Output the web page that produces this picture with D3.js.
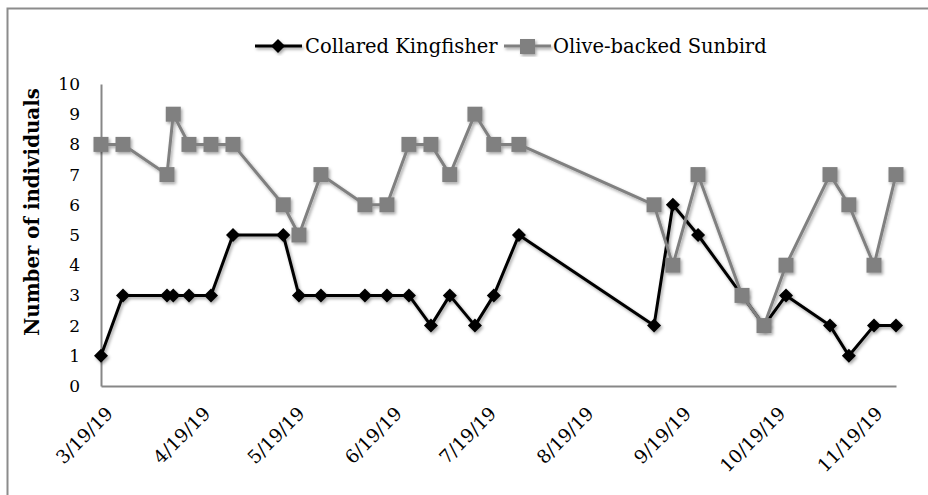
<!DOCTYPE html>
<html>
<head>
<meta charset="utf-8">
<script src="https://cdn.jsdelivr.net/npm/d3@7"></script>
<style>
  html, body { margin: 0; padding: 0; background: #fff; }
  svg { display: block; }
  text { font-family: "DejaVu Serif", "Liberation Serif", serif; fill: #000; }
</style>
</head>
<body>
<svg id="chart" width="928" height="495"></svg>
<script>
// ---- data ----
const dates = ["3/19/19","3/26/19","4/9/19","4/11/19","4/16/19","4/23/19","4/30/19",
  "5/16/19","5/21/19","5/28/19","6/11/19","6/18/19","6/25/19","7/2/19","7/8/19",
  "7/16/19","7/22/19","7/30/19","9/11/19","9/17/19","9/25/19","10/9/19","10/16/19",
  "10/23/19","11/6/19","11/12/19","11/20/19","11/27/19"];
const kingfisher = [1,3,3,3,3,3,5,5,3,3,3,3,3,2,3,2,3,5,2,6,5,3,2,3,2,1,2,2];
const sunbird    = [8,8,7,9,8,8,8,6,5,7,6,6,8,8,7,9,8,8,6,4,7,3,2,4,7,6,4,7];
const xTickLabels = ["3/19/19","4/19/19","5/19/19","6/19/19","7/19/19","8/19/19","9/19/19","10/19/19","11/19/19"];
const yTicks = [0,1,2,3,4,5,6,7,8,9,10];
const seriesNames = ["Collared Kingfisher","Olive-backed Sunbird"];
const yTitle = "Number of individuals";

// ---- setup ----
const parse = d3.timeParse("%m/%d/%y");
const fmt = d3.timeFormat("%-m/%-d/%y");
const svg = d3.select("#chart");

const defs = svg.append("defs");
const f = defs.append("filter").attr("id","shadow").attr("x","-20%").attr("y","-20%").attr("width","140%").attr("height","140%");
f.append("feDropShadow").attr("dx",1.5).attr("dy",2).attr("stdDeviation",1.6)
  .attr("flood-color","#000").attr("flood-opacity",0.35);

// outer border
svg.append("rect").attr("x",7.5).attr("y",8.5).attr("width",940).attr("height",500)
  .attr("fill","none").attr("stroke","#8c8c8c").attr("stroke-width",2);

const xDates = dates.map(parse);
const x = d3.scaleTime().domain([xDates[0], xDates[xDates.length-1]]).range([101, 896]);
const y = d3.scaleLinear().domain([0,10]).range([386, 84]);

// axes
const xAxis = d3.axisBottom(x).tickValues(xTickLabels.map(parse)).tickFormat(fmt).tickSize(0);
const gx = svg.append("g").attr("transform","translate(0,386)").call(xAxis);
gx.select(".domain").attr("stroke","#878787").attr("stroke-width",2);
gx.selectAll(".tick text")
  .attr("font-family","DejaVu Serif")
  .attr("font-size",18.5)
  .attr("text-anchor","end")
  .attr("transform","translate(8,24) rotate(-45)")
  .attr("x",0).attr("y",0).attr("dy","0.35em");

const yAxis = d3.axisLeft(y).tickValues(yTicks).tickSize(0).tickPadding(21);
const gy = svg.append("g").attr("transform","translate(101,0)").call(yAxis);
gy.select(".domain").attr("stroke","#878787").attr("stroke-width",2);
gy.selectAll(".tick text").attr("font-family","DejaVu Serif").attr("font-size",17);

// y title
svg.append("text")
  .attr("transform","translate(39,212) rotate(-90)")
  .attr("text-anchor","middle")
  .attr("font-weight","bold")
  .attr("font-size",19.8)
  .text(yTitle);

// series
const line = d3.line().x(d => x(d.date)).y(d => y(d.v));
const kData = xDates.map((d,i) => ({date:d, v:kingfisher[i]}));
const sData = xDates.map((d,i) => ({date:d, v:sunbird[i]}));

const diamond = "M0,-7L7,0L0,7L-7,0Z";

const gk = svg.append("g").attr("filter","url(#shadow)");
gk.append("path").datum(kData).attr("d",line).attr("fill","none").attr("stroke","#000").attr("stroke-width",3).attr("stroke-linejoin","round");
gk.selectAll("path.m").data(kData).enter().append("path").attr("class","m")
  .attr("d",diamond).attr("transform",d => `translate(${x(d.date)},${y(d.v)})`).attr("fill","#000");

const gs = svg.append("g").attr("filter","url(#shadow)");
gs.append("path").datum(sData).attr("d",line).attr("fill","none").attr("stroke","#808080").attr("stroke-width",3).attr("stroke-linejoin","round");
gs.selectAll("rect").data(sData).enter().append("rect")
  .attr("x",d => x(d.date)-7.5).attr("y",d => y(d.v)-7.5).attr("width",15).attr("height",15).attr("fill","#808080");

// legend
const lg = svg.append("g");
const l1 = lg.append("g").attr("filter","url(#shadow)");
l1.append("line").attr("x1",255).attr("x2",302).attr("y1",46).attr("y2",46).attr("stroke","#000").attr("stroke-width",3);
l1.append("path").attr("d",diamond).attr("transform","translate(278,46)").attr("fill","#000");
lg.append("text").attr("x",305).attr("y",53).attr("font-size",19.5).text(seriesNames[0]);
const l2 = lg.append("g").attr("filter","url(#shadow)");
l2.append("line").attr("x1",504).attr("x2",551).attr("y1",46).attr("y2",46).attr("stroke","#808080").attr("stroke-width",3);
l2.append("rect").attr("x",520).attr("y",39).attr("width",15).attr("height",15).attr("fill","#808080");
lg.append("text").attr("x",553).attr("y",53).attr("font-size",19.5).text(seriesNames[1]);
</script>
</body>
</html>
